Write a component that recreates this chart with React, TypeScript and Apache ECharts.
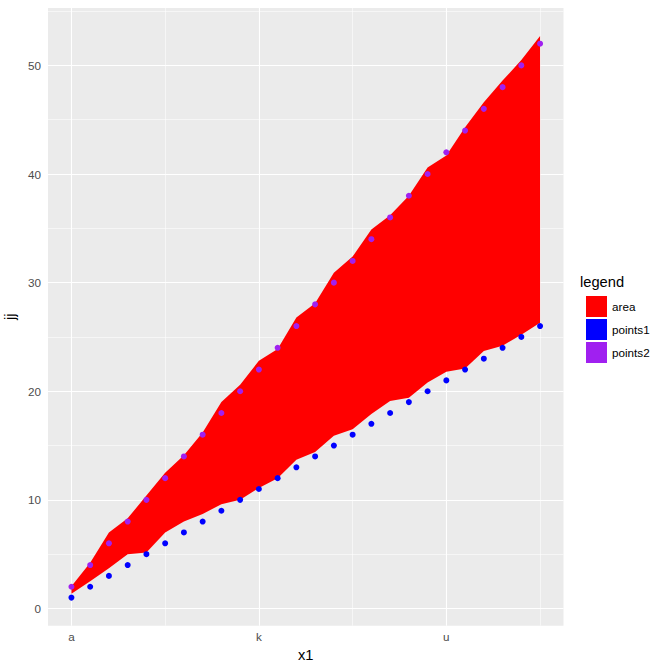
import React, { useEffect, useRef } from "react";
import * as echarts from "echarts";

const categories = ["a","b","c","d","e","f","g","h","i","j","k","l","m","n","o","p","q","r","s","t","u","v","w","x","y","z"];
const points1 = [1,2,3,4,5,6,7,8,9,10,11,12,13,14,15,16,17,18,19,20,21,22,23,24,25,26];
const points2 = [2,4,6,8,10,12,14,16,18,20,22,24,26,28,30,32,34,36,38,40,42,44,46,48,50,52];
const areaMin = [1.35,2.5,3.7,5.0,5.15,7.0,8.0,8.7,9.6,10.0,11.1,12.0,13.7,14.4,15.9,16.5,17.9,19.1,19.4,20.8,21.8,22.1,23.7,24.2,25.2,26.3];
const areaMax = [2.05,4.2,7.0,8.3,10.4,12.5,14.1,16.2,19.0,20.6,22.8,23.9,26.8,28.1,30.9,32.4,34.9,36.2,38.0,40.6,41.7,44.3,46.6,48.6,50.5,52.7];
const yBreaks = [0,10,20,30,40,50];
const yMinorBreaks = [5,15,25,35,45,55];
const xBreakLabels = ["a","k","u"];
const xMinorLabels = ["f","p","z"];
const legendItems = ["area","points1","points2"];

const FONT = "'Liberation Sans', Arial, sans-serif";

export default function App() {
  const ref = useRef<HTMLDivElement>(null);
  useEffect(() => {
    if (!ref.current) return;
    const chart = echarts.init(ref.current, undefined, { renderer: "svg" });
    const xOf = (c: string) => categories.indexOf(c) + 1;
    const xBreaks = xBreakLabels.map(xOf);
    const xMinor = xMinorLabels.map(xOf);
    const gridLines: any[] = [
      ...yMinorBreaks.map((v) => ({ yAxis: v, lineStyle: { width: 0.55 } })),
      ...xMinor.map((v) => ({ xAxis: v, lineStyle: { width: 0.55 } })),
      ...yBreaks.map((v) => ({ yAxis: v, lineStyle: { width: 1.1 } })),
      ...xBreaks.map((v) => ({ xAxis: v, lineStyle: { width: 1.1 } })),
    ];
    const ribbonData = categories.map((c, i) => [i + 1, areaMin[i], areaMax[i]]);
    const option: any = {
      animation: false,
      backgroundColor: "#FFFFFF",
      textStyle: { fontFamily: FONT },
      grid: {
        left: 48, right: 108.5, top: 8, bottom: 45.3,
        show: true, backgroundColor: "#EBEBEB", borderWidth: 0,
        containLabel: false, outerBoundsMode: "none",
      },
      xAxis: {
        type: "value", min: -0.25, max: 27.25,
        axisLine: { show: false },
        splitLine: { show: false },
        axisTick: { show: true, customValues: xBreaks, length: 3.7, lineStyle: { color: "#333333", width: 1 } },
        axisLabel: {
          customValues: xBreaks,
          formatter: (v: number) => categories[Math.round(v) - 1],
          margin: 5, color: "#4D4D4D", fontSize: 11.7, fontFamily: FONT,
        },
        name: "x1", nameLocation: "middle", nameGap: 20,
        nameTextStyle: { color: "#000000", fontSize: 14.7, fontFamily: FONT },
      },
      yAxis: {
        type: "value", min: -1.585, max: 55.285,
        axisLine: { show: false },
        splitLine: { show: false },
        axisTick: { show: true, customValues: yBreaks, length: 3.7, lineStyle: { color: "#333333", width: 1 } },
        axisLabel: {
          customValues: yBreaks,
          margin: 7, color: "#4D4D4D", fontSize: 11.7, fontFamily: FONT,
        },
        name: "jj", nameLocation: "middle", nameGap: 23, nameRotate: 90,
        nameTextStyle: { color: "#000000", fontSize: 14.7, fontFamily: FONT },
      },
      legend: {
        orient: "vertical", left: 581, top: 291,
        icon: "rect", itemWidth: 21, itemHeight: 21, itemGap: 2,
        selectedMode: false,
        itemStyle: { borderWidth: 0, opacity: 1 },
        textStyle: { color: "#000000", fontSize: 11.7, fontFamily: FONT },
        data: legendItems.map((n, i) => ({
          name: n,
          itemStyle: { color: ["#FF0000", "#0000FF", "#A020F0"][i], borderWidth: 0, opacity: 1 },
        })),
      },
      graphic: [
        {
          type: "text", left: 580, top: 274,
          style: { text: "legend", fill: "#000000", fontSize: 14.7, fontFamily: FONT },
        },
      ],
      series: [
        {
          name: "grid", type: "line", z: 1, data: [], silent: true,
          markLine: {
            z: 1, silent: true, symbol: ["none", "none"],
            label: { show: false },
            lineStyle: { color: "#FFFFFF", type: "solid" },
            emphasis: { disabled: true },
            data: gridLines,
          },
        },
        {
          name: "area", type: "custom", z: 2, silent: true, color: "#FF0000",
          data: ribbonData,
          encode: { x: 0, y: [1, 2] },
          renderItem: (params: any, api: any) => {
            if (params.dataIndex !== 0) return null;
            const upper = ribbonData.map((r) => api.coord([r[0], r[2]]));
            const lower = ribbonData.map((r) => api.coord([r[0], r[1]])).reverse();
            return {
              type: "polygon",
              shape: { points: upper.concat(lower) },
              style: { fill: "#FF0000", stroke: "none" },
            };
          },
        },
        {
          name: "points1", type: "scatter", z: 3,
          data: categories.map((c, i) => [i + 1, points1[i]]),
          symbolSize: 6, itemStyle: { color: "#0000FF", opacity: 1 }, silent: true,
        },
        {
          name: "points2", type: "scatter", z: 4,
          data: categories.map((c, i) => [i + 1, points2[i]]),
          symbolSize: 6, itemStyle: { color: "#A020F0", opacity: 1 }, silent: true,
        },
      ],
    };
    chart.setOption(option);
    return () => chart.dispose();
  }, []);
  return (
    <div
      ref={ref}
      style={{ position: "fixed", left: 0, top: 0, width: 672, height: 671, background: "#FFFFFF" }}
    />
  );
}
